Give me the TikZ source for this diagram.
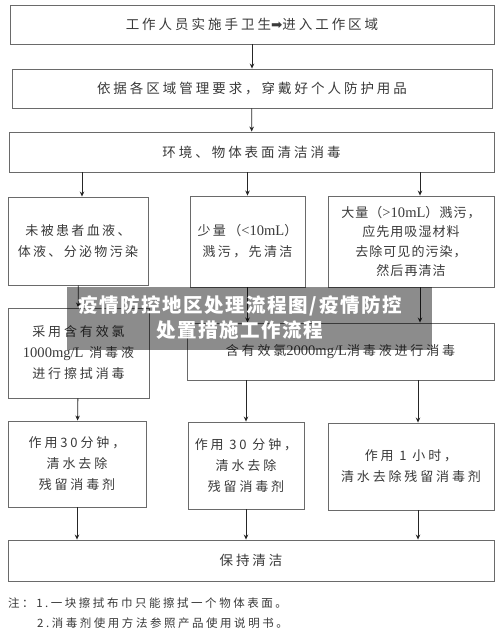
\documentclass[tikz,border=0pt]{standalone}
\usepackage{fontspec}
\usetikzlibrary{arrows.meta}
\newfontfamily\cjk[LetterSpace=22]{Noto Sans CJK SC}
\newfontfamily\cjkm[LetterSpace=18]{Noto Sans CJK SC}
\newfontfamily\cjkn[LetterSpace=8]{Noto Sans CJK SC}
\newfontfamily\cjkt[LetterSpace=8]{Noto Sans CJK SC}
\newfontfamily\lat[Scale=1.12]{Liberation Serif}
\newfontfamily\sym{DejaVu Sans}
\newcommand\la[1]{{\lat #1}}
\definecolor{ink}{HTML}{3A3A3A}
\definecolor{frame}{HTML}{6A6A6A}

\tikzset{
  box/.style={draw=frame, line width=0.9pt, align=center, inner sep=0pt,
    font=\cjk\fontsize{13}{21}\selectfont, text=ink},
  wide/.style={box, font=\cjk\fontsize{13.5}{21}\selectfont},
  arr/.style={draw=black!85, line width=0.8pt, -{Stealth[length=5pt,width=4.5pt]}},
  note/.style={anchor=west, inner sep=0pt, font=\cjk\fontsize{11.5}{14}\selectfont, text=ink}
}

\begin{document}
\begin{tikzpicture}[x=1pt,y=-1pt]
\useasboundingbox (0,0) rectangle (500,638);
\fill[white] (0,0) rectangle (500,638);

% main column
\node[wide, minimum width=484pt, minimum height=39pt] (hand) at (252,24.5) {工作人员实施手卫生{\sym ➡}进入工作区域};
\node[wide, minimum width=480pt, minimum height=39pt] (wear) at (252,88.5) {依据各区域管理要求，穿戴好个人防护用品};
\node[wide, minimum width=485pt, minimum height=40pt] (env) at (251.5,152) {环境、物体表面清洁消毒};

% contamination cases
\node[box, minimum width=140pt, minimum height=88pt, font=\cjkm\fontsize{13}{21}\selectfont] (blood) at (78,241) {未被患者血液、\\体液、分泌物污染};
\node[box, minimum width=115pt, minimum height=91pt, font=\cjkm\fontsize{13}{21}\selectfont] (small) at (247.5,241.5) {少量（\la{<10mL}）\\溅污，先清洁};
\node[box, minimum width=166pt, minimum height=91pt, font=\cjkn\fontsize{13}{19.5}\selectfont] (large) at (411,241.5) {大量（\la{>10mL}）溅污，\\应先用吸湿材料\\去除可见的污染，\\然后再清洁};

% disinfection
\node[box, minimum width=141pt, minimum height=90pt] (wipe) at (78.5,353) {采用含有效氯\\\la{1000mg/L} 消毒液\\进行擦拭消毒};
\node[box, minimum width=307pt, minimum height=57pt] (soak) at (340.5,351.5) {含有效氯\la{2000mg/L}消毒液进行消毒};

% contact time
\node[box, minimum width=138pt, minimum height=86pt] (half1) at (77,464) {作用30分钟，\\清水去除\\残留消毒剂};
\node[box, minimum width=116pt, minimum height=87pt] (half2) at (246,465.5) {作用 30 分钟，\\清水去除\\残留消毒剂};
\node[box, minimum width=166pt, minimum height=87pt] (hour) at (411,466.5) {作用 1 小时，\\清水去除残留消毒剂};

\node[wide, minimum width=486pt, minimum height=41pt] (keep) at (251,560.5) {保持清洁};

% notes
\node[note] (note1) at (8,603) {注：1.一块擦拭布巾只能擦拭一个物体表面。};
\node[note] (note2) at (37,623) {2.消毒剂使用方法参照产品使用说明书。};

% arrows
\draw[arr] (hand) -- (wear);
\draw[arr] (wear) -- (env);
\draw[arr] ([xshift=4pt]blood.north |- env.south) -- ([xshift=4pt]blood.north);
\draw[arr] (small.north |- env.south) -- (small.north);
\draw[arr] ([xshift=9pt]large.north |- env.south) -- ([xshift=9pt]large.north);
\draw[arr] (blood) -- (wipe);
\draw[arr] (small.south) -- (small.south |- soak.north);
\draw[arr] ([xshift=9pt]large.south) -- ([xshift=9pt]large.south |- soak.north);
\draw[arr] (wipe) -- (half1);
\draw[arr] (half2.north |- soak.south) -- (half2.north);
\draw[arr] ([xshift=7pt]hour.north |- soak.south) -- ([xshift=7pt]hour.north);
\draw[arr] (half1.south) -- (half1.south |- keep.north);
\draw[arr] (half2.south) -- (half2.south |- keep.north);
\draw[arr] ([xshift=7pt]hour.south) -- ([xshift=7pt]hour.south |- keep.north);

% title banner over the chart
\fill[black, fill opacity=0.45] (67,287) rectangle (432,350);
\node[align=center, text=white, inner sep=0pt, font=\cjkt\bfseries\fontsize{19.5}{25}\selectfont] (title) at (240,318) {疫情防控地区处理流程图/疫情防控\\处置措施工作流程};
\end{tikzpicture}
\end{document}
